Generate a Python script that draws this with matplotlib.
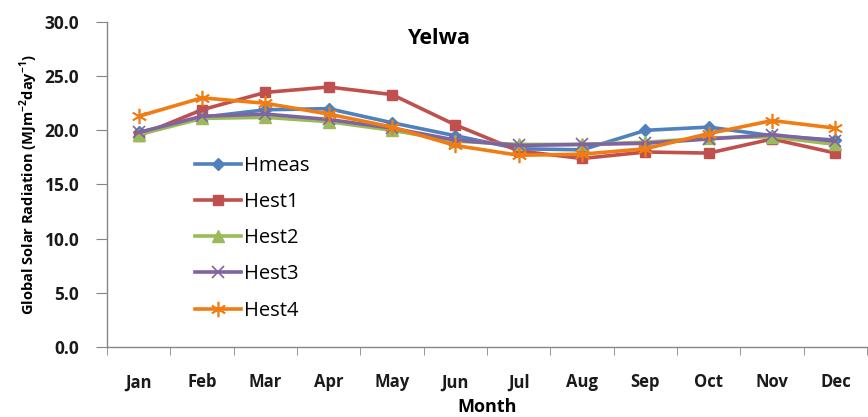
import matplotlib
matplotlib.use("Agg")
import matplotlib.pyplot as plt
import numpy as np

months = ["Jan", "Feb", "Mar", "Apr", "May", "Jun", "Jul", "Aug", "Sep", "Oct", "Nov", "Dec"]
hmeas = [19.8, 21.2, 21.9, 22.0, 20.7, 19.5, 18.3, 18.2, 20.0, 20.3, 19.5, 19.1]
hest1 = [19.5, 21.9, 23.5, 24.0, 23.3, 20.5, 18.1, 17.4, 18.0, 17.9, 19.2, 17.9]
hest2 = [19.6, 21.1, 21.2, 20.8, 20.0, 19.0, 18.7, 18.7, 18.9, 19.3, 19.4, 18.7]
hest3 = [19.8, 21.3, 21.5, 21.0, 20.2, 19.1, 18.6, 18.7, 18.8, 19.2, 19.6, 19.0]
hest4 = [21.3, 23.0, 22.5, 21.5, 20.3, 18.6, 17.7, 17.8, 18.3, 19.7, 20.9, 20.2]
yticks = [0, 5, 10, 15, 20, 25, 30]

plt.rcParams['font.family'] = ['Open Sans', 'DejaVu Sans']
plt.rcParams['mathtext.fontset'] = 'custom'
plt.rcParams['mathtext.rm'] = 'Open Sans:bold'
plt.rcParams['mathtext.bf'] = 'Open Sans:bold'

fig = plt.figure(figsize=(8.68, 4.17), dpi=100)
ax = fig.add_axes([107/868, 70/417, 1 - 107/868 - 0.001, 325/417])

x = np.arange(len(months))
lw = 2.6
ax.plot(x, hmeas, color="#4F81BD", lw=lw, marker="D", ms=6, label="Hmeas")
ax.plot(x, hest1, color="#C0504D", lw=lw, marker="s", ms=7, label="Hest1")
ax.plot(x, hest2, color="#9BBB59", lw=lw, marker="^", ms=8, label="Hest2")
ax.plot(x, hest3, color="#8064A2", lw=lw, marker="x", ms=8, mew=1.2, label="Hest3")
ax.plot(x, hest4, color="#F07D14", lw=lw, marker=(6, 2, 0), ms=11, mew=1.2, label="Hest4")

ax.set_xlim(-0.5, len(months) - 0.5)
ax.set_ylim(0, 30)
ax.set_yticks(yticks)
ax.set_yticklabels([f"{v:.1f}" for v in yticks], fontsize=12.5, fontweight="bold", color="#1a1a1a")
ax.set_xticks(x)
ax.set_xticklabels(months, fontsize=12, fontweight="bold", color="#1a1a1a")
ax.set_xticks(np.arange(-0.5, len(months)), minor=True)
ax.tick_params(axis="x", which="major", length=0, pad=19)
ax.tick_params(axis="x", which="minor", length=6, color="#868686", direction="out")
ax.tick_params(axis="y", length=8, color="#868686", direction="out", pad=12)

for s in ["top", "right"]:
    ax.spines[s].set_visible(False)
for s in ["left", "bottom"]:
    ax.spines[s].set_color("#868686")
    ax.spines[s].set_linewidth(1.0)

ax.set_xlabel("Month", fontsize=13, fontweight="bold", labelpad=5)
ax.set_ylabel("Global Solar Radiation (MJm$^{\\mathregular{-2}}$day$^{\\mathregular{-1}}$)",
              fontsize=10.5, fontweight="bold", labelpad=3)
ax.text(0.437, 0.948, "Yelwa", transform=ax.transAxes, fontsize=15.5, fontweight="bold", ha="center", va="center")

leg = ax.legend(loc="upper left", bbox_to_anchor=(0.105, 0.612), frameon=False, fontsize=14.5,
                handlelength=2.3, labelspacing=0.8, handletextpad=0.15, borderaxespad=0)

fig.savefig("out.png", dpi=100)
